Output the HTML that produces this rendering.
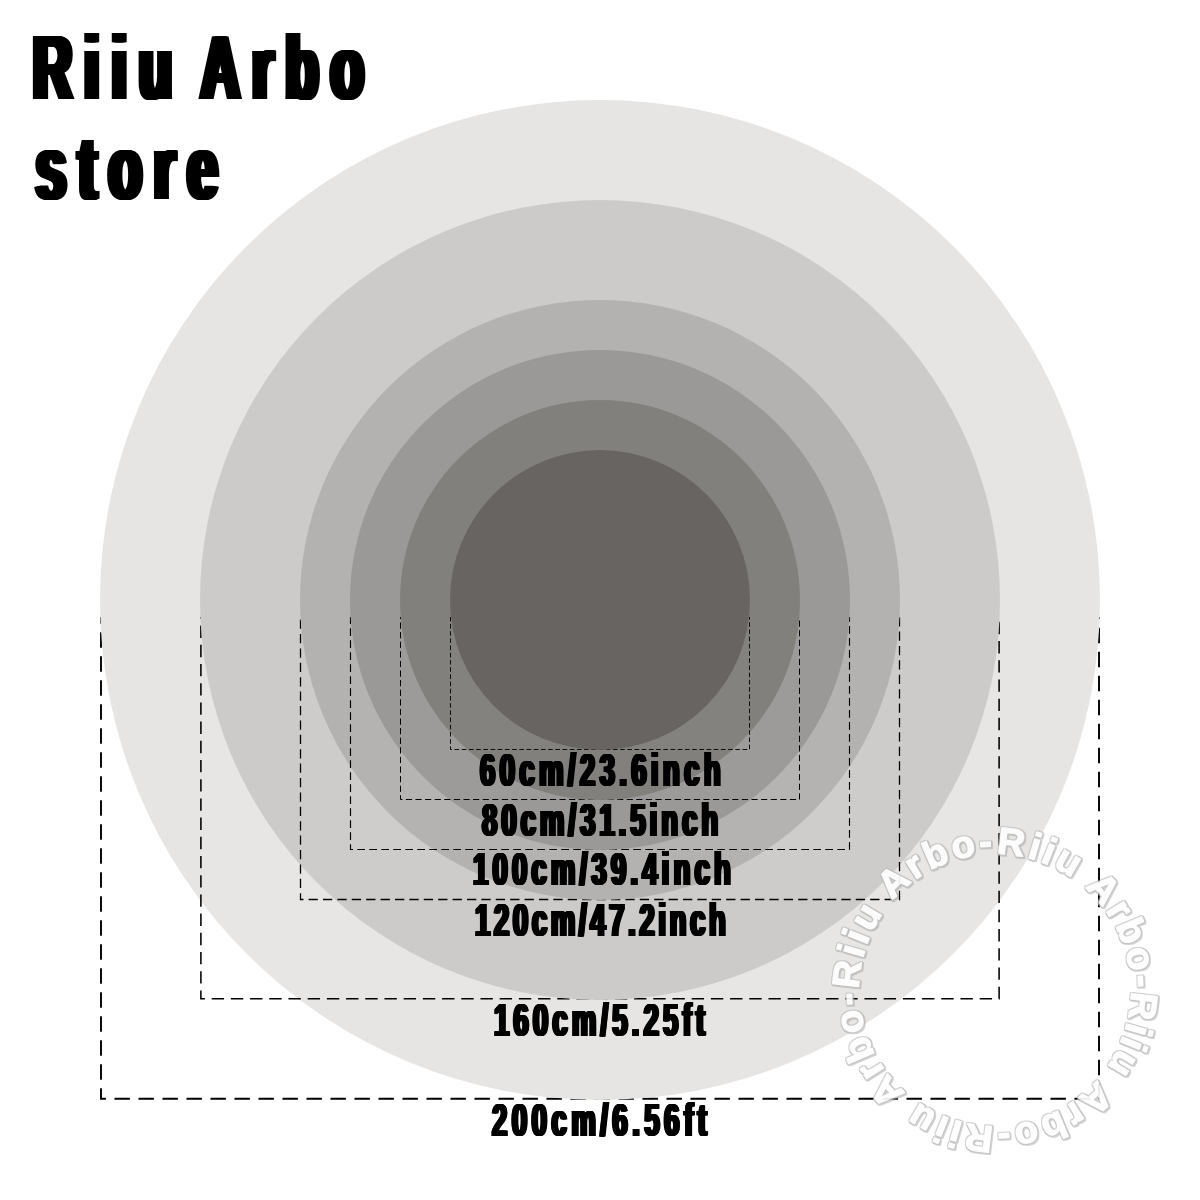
<!DOCTYPE html>
<html lang="en">
<head>
<meta charset="utf-8">
<title>Riiu Arbo store</title>
<style>
html,body{margin:0;padding:0;background:#ffffff;}
body{width:1200px;height:1200px;overflow:hidden;position:relative;font-family:"Liberation Sans",sans-serif;}
svg{position:absolute;left:0;top:0;display:block;}
.fat{position:absolute;white-space:nowrap;font-family:"Liberation Sans",sans-serif;font-weight:bold;color:#000;line-height:1;margin:0;
 transform-origin:0 0;transform:scaleX(0.6);
 text-shadow:0.0174em 0 0 #000,0.0347em 0 0 #000,0.0521em 0 0 #000,0.0694em 0 0 #000,-0.0174em 0 0 #000,-0.0347em 0 0 #000,-0.0521em 0 0 #000,-0.0694em 0 0 #000;}
.ttl{font-size:90px;letter-spacing:20.6px;word-spacing:-15px;}
.lbl{font-size:46px;letter-spacing:0px;color:#000;
 text-shadow:0.0145em 0 0 #000,0.029em 0 0 #000,0.0435em 0 0 #000,0.058em 0 0 #000,-0.0145em 0 0 #000,-0.029em 0 0 #000,-0.0435em 0 0 #000,-0.058em 0 0 #000;}
.wm{font-family:"Liberation Sans",sans-serif;font-weight:bold;}
</style>
</head>
<body>
<svg width="1200" height="1200" viewBox="0 0 1200 1200">
  <defs>
    <filter id="emboss" x="780" y="780" width="420" height="420" filterUnits="userSpaceOnUse" color-interpolation-filters="sRGB">
      <feMorphology in="SourceAlpha" operator="dilate" radius="0.7" result="fat"/>
      <feOffset in="fat" dx="1.1" dy="1.3" result="off"/>
      <feGaussianBlur in="off" stdDeviation="0.7" result="offb"/>
      <feFlood flood-color="#9a9a9a" flood-opacity="0.45"/>
      <feComposite in2="offb" operator="in" result="shadow"/>
      <feGaussianBlur in="fat" stdDeviation="0.5" result="fatb"/>
      <feFlood flood-color="#bcbcbc" flood-opacity="0.7"/>
      <feComposite in2="fatb" operator="in" result="edge"/>
      <feMerge><feMergeNode in="shadow"/><feMergeNode in="edge"/><feMergeNode in="SourceGraphic"/></feMerge>
    </filter>
    <path id="wmpath" d="M 996.187 854.005 A 136 136 0 0 1 993.813 1125.995 A 136 136 0 0 1 996.187 854.005"/>
  </defs>

  <rect width="1200" height="1200" fill="#ffffff"/>

  <!-- each size: faint frosted panel + dashed bracket tucked under its own disc -->
  <g>
    <polyline fill="none" stroke="#000" points="101,617 101,1098.7 1099,1098.7 1099,617" stroke-width="1.90" stroke-dasharray="15.48 8.52" stroke-dashoffset="-15.17"/>
    <circle cx="600" cy="600" r="500" fill="#e6e5e3"/>
  </g>
  <g>
    <rect x="200" y="617" width="800" height="383" fill="#f6f9ff" fill-opacity="0.05"/>
    <polyline fill="none" stroke="#000" points="200.9,617 200.9,998.8 999.1,998.8 999.1,617" stroke-width="1.55" stroke-dasharray="12.38 6.82" stroke-dashoffset="-8.58"/>
    <circle cx="600" cy="600" r="400" fill="#cccbc9"/>
  </g>
  <g>
    <rect x="300" y="617" width="600" height="283" fill="#f4f8ff" fill-opacity="0.03"/>
    <polyline fill="none" stroke="#000" points="300.5,617 300.5,899.5 899.5,899.5 899.5,617" stroke-width="1.30" stroke-dasharray="9.29 5.11" stroke-dashoffset="-2.58"/>
    <circle cx="600" cy="600" r="300" fill="#b3b2b0"/>
  </g>
  <g>
    <rect x="350" y="617" width="500" height="233" fill="#f4f8ff" fill-opacity="0.025"/>
    <polyline fill="none" stroke="#000" points="350.5,617 350.5,849.5 849.5,849.5 849.5,617" stroke-width="1.15" stroke-dasharray="7.74 4.26" stroke-dashoffset="-11.24"/>
    <circle cx="600" cy="600" r="250" fill="#9a9997"/>
  </g>
  <g>
    <rect x="400" y="617" width="400" height="183" fill="#f4f8ff" fill-opacity="0.022"/>
    <polyline fill="none" stroke="#000" points="400.5,617 400.5,799.5 799.5,799.5 799.5,617" stroke-width="1.00" stroke-dasharray="6.19 3.41" stroke-dashoffset="-5.49"/>
    <circle cx="600" cy="600" r="200" fill="#81807d"/>
  </g>
  <g>
    <rect x="450" y="617" width="300" height="133" fill="#f4f8ff" fill-opacity="0.018"/>
    <polyline fill="none" stroke="#000" points="450.5,617 450.5,749.5 749.5,749.5 749.5,617" stroke-width="0.90" stroke-dasharray="4.64 2.56" stroke-dashoffset="-6.94"/>
    <circle cx="600" cy="600" r="150" fill="#686462"/>
  </g>

  <!-- watermark -->
  <g class="wm" font-size="38" letter-spacing="3.1" opacity="0.93" filter="url(#emboss)">
    <text fill="#fefefe" stroke="#fefefe" stroke-width="1.3" stroke-linejoin="round"><textPath href="#wmpath">Riiu Arbo-Riiu Arbo-Riiu Arbo-Riiu Arbo-</textPath></text>
  </g>
</svg>

<h1 class="fat ttl" id="t1" style="left:32.8px;top:22.8px;">Riiu Arbo</h1>
<h1 class="fat ttl" id="t2" style="left:35.7px;top:122.6px;">store</h1>
<div class="fat lbl" id="l1" style="left:479.9px;top:746.6px;letter-spacing:7.22px;">60cm/23.6inch</div>
<div class="fat lbl" id="l2" style="left:482.2px;top:797.3px;letter-spacing:6.60px;">80cm/31.5inch</div>
<div class="fat lbl" id="l3" style="left:472.5px;top:846.3px;letter-spacing:6.90px;">100cm/39.4inch</div>
<div class="fat lbl" id="l4" style="left:474.7px;top:896.7px;letter-spacing:6.00px;">120cm/47.2inch</div>
<div class="fat lbl" id="l5" style="left:494.0px;top:997.4px;letter-spacing:6.86px;">160cm/5.25ft</div>
<div class="fat lbl" id="l6" style="left:491.9px;top:1097.4px;letter-spacing:7.45px;">200cm/6.56ft</div>
</body>
</html>
